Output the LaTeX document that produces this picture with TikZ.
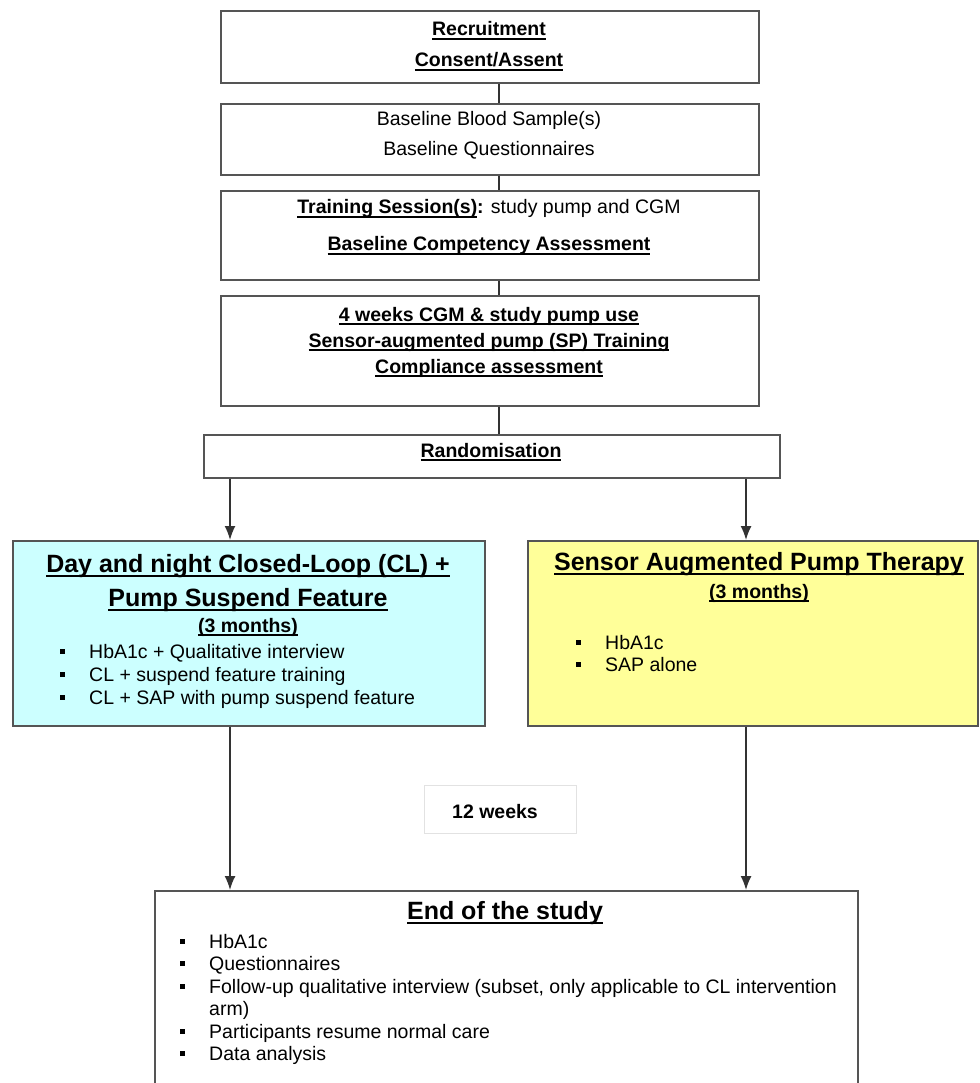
\documentclass[tikz,border=0pt]{standalone}
\usepackage{fontspec}
\setmainfont{Liberation Sans}
\usetikzlibrary{arrows.meta}
\definecolor{boxgray}{HTML}{555555}
\definecolor{linegray}{HTML}{333333}
\definecolor{cyanfill}{HTML}{CCFFFF}
\definecolor{yellowfill}{HTML}{FFFF99}
\definecolor{lightborder}{HTML}{E2E2E2}
\newcommand{\bul}{\raisebox{4.5pt}{\rule{5pt}{5pt}}\hspace{24.5pt}}
\newsavebox{\myulbox}
\newcommand{\myul}[1]{\sbox{\myulbox}{#1}\rlap{\rule[-0.18em]{\wd\myulbox}{0.08em}}\usebox{\myulbox}}
\tikzset{
  box/.style={draw=boxgray, line width=1.6pt, rectangle, anchor=north west, inner sep=0pt},
  conn/.style={draw=linegray, line width=1.6pt},
  arr/.style={draw=linegray, line width=1.6pt, -{Latex[length=14pt,width=11pt]}},
  txt/.style={inner sep=0pt, anchor=base, font=\fontsize{19.5}{22}\selectfont},
  bigtxt/.style={inner sep=0pt, anchor=base, font=\fontsize{25}{28}\selectfont\bfseries},
  btxt/.style={inner sep=0pt, anchor=base west, font=\fontsize{19.5}{22}\selectfont},
}
\begin{document}
\begin{tikzpicture}[x=1pt,y=-1pt]
\useasboundingbox (0,0) rectangle (979,1083);
\fill[white] (0,0) rectangle (979,1083);

% boxes
\node[box, minimum width=538pt, minimum height=72pt] (b1) at (220,10) {};
\node[box, minimum width=538pt, minimum height=71pt] (b2) at (220,103) {};
\node[box, minimum width=538pt, minimum height=89pt] (b3) at (220,190) {};
\node[box, minimum width=538pt, minimum height=110pt] (b4) at (220,295) {};
\node[box, minimum width=576pt, minimum height=43pt] (rand) at (203,434) {};
\node[box, fill=cyanfill, minimum width=472pt, minimum height=185pt] (cl) at (12,540) {};
\node[box, fill=yellowfill, minimum width=450pt, minimum height=185pt] (sap) at (527,540) {};
\node[box, draw=lightborder, line width=0.8pt, minimum width=152pt, minimum height=48pt] (wk) at (424,785) {};
\node[box, minimum width=703pt, minimum height=210pt] (end) at (154,890) {};

% texts in top boxes
\node[txt] (t1a) at (489,36) {\textbf{\myul{Recruitment}}};
\node[txt] (t1b) at (489,67) {\textbf{\myul{Consent/Assent}}};
\node[txt] (t2a) at (489,126) {Baseline Blood Sample(s)};
\node[txt] (t2b) at (489,156) {Baseline Questionnaires};
\node[txt] (t3a) at (489,214) {\textbf{\myul{Training Session(s)}:} study pump and CGM};
\node[txt] (t3b) at (489,251) {\textbf{\myul{Baseline Competency Assessment}}};
\node[txt] (t4a) at (489,321) {\textbf{\myul{4 weeks CGM \& study pump use}}};
\node[txt] (t4b) at (489,347) {\textbf{\myul{Sensor-augmented pump (SP) Training}}};
\node[txt] (t4c) at (489,373) {\textbf{\myul{Compliance assessment}}};
\node[txt] (tr) at (491,457) {\textbf{\myul{Randomisation}}};

% left arm
\node[bigtxt] (cl1) at (248,572) {\myul{Day and night Closed-Loop (CL) +}};
\node[bigtxt] (cl2) at (248,606) {\myul{Pump Suspend Feature}};
\node[txt] (cl3) at (248,632) {\textbf{\myul{(3 months)}}};
\node[btxt] (cli1) at (59.5,658) {\bul HbA1c + Qualitative interview};
\node[btxt] (cli2) at (59.5,681) {\bul CL + suspend feature training};
\node[btxt] (cli3) at (59.5,704) {\bul CL + SAP with pump suspend feature};

% right arm
\node[bigtxt] (sp1) at (759,570) {\myul{Sensor Augmented Pump Therapy}};
\node[txt] (sp2) at (759,598) {\textbf{\myul{(3 months)}}};
\node[btxt] (spi1) at (575.5,649) {\bul HbA1c};
\node[btxt] (spi2) at (575.5,671) {\bul SAP alone};

% 12 weeks
\node[txt] (wkt) at (495,818) {\textbf{12 weeks}};

% end of study
\node[bigtxt] (e0) at (505,919) {\myul{End of the study}};
\node[btxt] (e1) at (179.5,948) {\bul HbA1c};
\node[btxt] (e2) at (179.5,970) {\bul Questionnaires};
\node[btxt] (e3) at (179.5,993) {\bul Follow-up qualitative interview (subset, only applicable to CL intervention};
\node[btxt] (e4) at (209,1015) {arm)};
\node[btxt] (e5) at (179.5,1038) {\bul Participants resume normal care};
\node[btxt] (e6) at (179.5,1060) {\bul Data analysis};

% connectors
\coordinate (cx) at (499,0);
\coordinate (lx) at (230,0);
\coordinate (rx) at (746,0);
\draw[conn] (b1.south -| cx) -- (b2.north -| cx);
\draw[conn] (b2.south -| cx) -- (b3.north -| cx);
\draw[conn] (b3.south -| cx) -- (b4.north -| cx);
\draw[conn] (b4.south -| cx) -- (rand.north -| cx);
\draw[arr] (rand.south -| lx) -- (cl.north -| lx);
\draw[arr] (rand.south -| rx) -- (sap.north -| rx);
\draw[arr] (cl.south -| lx) -- (end.north -| lx);
\draw[arr] (sap.south -| rx) -- (end.north -| rx);
\end{tikzpicture}
\end{document}
